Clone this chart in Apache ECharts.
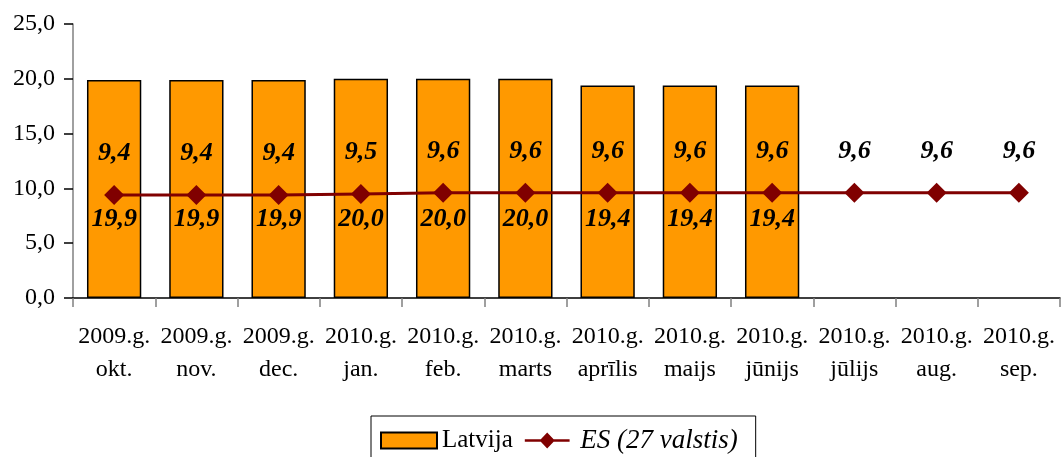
<!DOCTYPE html>
<html><head><meta charset="utf-8">
<script src="https://cdn.jsdelivr.net/npm/echarts@6/dist/echarts.min.js"></script>
<style>html,body{margin:0;padding:0;background:#fff}#c{width:1062px;height:457px}</style>
</head><body><div id="c"></div>
<script>
const categories = ['2009.g.\nokt.','2009.g.\nnov.','2009.g.\ndec.','2010.g.\njan.','2010.g.\nfeb.','2010.g.\nmarts','2010.g.\naprīlis','2010.g.\nmaijs','2010.g.\njūnijs','2010.g.\njūlijs','2010.g.\naug.','2010.g.\nsep.'];
const latvija = [19.9,19.9,19.9,20.0,20.0,20.0,19.4,19.4,19.4,null,null,null];
const es27 = [9.4,9.4,9.4,9.5,9.6,9.6,9.6,9.6,9.6,9.6,9.6,9.6];
const yTicks = {min:0, max:25, interval:5};

const fmt = v => v.toFixed(1).replace('.', ',');
const serif = '"Liberation Serif", "DejaVu Serif", serif';
const lineIcon = 'path://M0,7.5 L20,7.5 L28,-1 L36,7.5 L56,7.5 L56,10.5 L36,10.5 L28,19 L20,10.5 L0,10.5 Z';
const chart = echarts.init(document.getElementById('c'));
chart.setOption({
  animation:false,
  grid:{left:73,right:2,top:24,bottom:159},
  legend:{
    left:371, top:416,
    itemWidth:56, itemHeight:16, itemGap:12,
    padding:[11,18,20,9],
    borderColor:'#000', borderWidth:1,
    textStyle:{fontFamily:serif,fontSize:25,color:'#000'},
    data:[{name:'Latvija',icon:'rect'},
          {name:'ES (27 valstis)',icon:lineIcon,itemStyle:{color:'#800000',borderWidth:0},textStyle:{fontStyle:'italic',fontSize:27}}]
  },
  xAxis:{
    type:'category', data:categories, boundaryGap:true,
    axisLine:{lineStyle:{color:'#000',width:1.5}},
    axisTick:{show:true,length:9,lineStyle:{color:'#808080',width:1.5}},
    axisLabel:{fontFamily:serif,fontSize:24,color:'#000',margin:22,lineHeight:33,interval:0}
  },
  yAxis:{
    type:'value', min:yTicks.min, max:yTicks.max, interval:yTicks.interval,
    splitLine:{show:false},
    axisLine:{show:true,lineStyle:{color:'#808080',width:1.5}},
    axisTick:{show:true,length:9,lineStyle:{color:'#000',width:1.5}},
    axisLabel:{fontFamily:serif,fontSize:24,color:'#000',margin:18,formatter:v=>fmt(v)}
  },
  series:[
    {name:'Latvija',type:'bar',data:latvija,barCategoryGap:'34%',
     itemStyle:{color:'#FF9900',borderColor:'#000',borderWidth:1.5},
     label:{show:true,position:'insideBottom',distance:66,fontFamily:serif,fontSize:26,
       fontWeight:'bold',fontStyle:'italic',color:'#000',formatter:p=>fmt(p.value)},
     z:2},
    {name:'ES (27 valstis)',type:'line',data:es27,
     lineStyle:{color:'#800000',width:3},itemStyle:{color:'#800000'},
     symbol:'diamond',symbolSize:[20,20],
     label:{show:true,position:'top',distance:19,fontFamily:serif,fontSize:26,
       fontWeight:'bold',fontStyle:'italic',color:'#000',formatter:p=>fmt(p.value)},
     z:3}
  ]
});
</script></body></html>
